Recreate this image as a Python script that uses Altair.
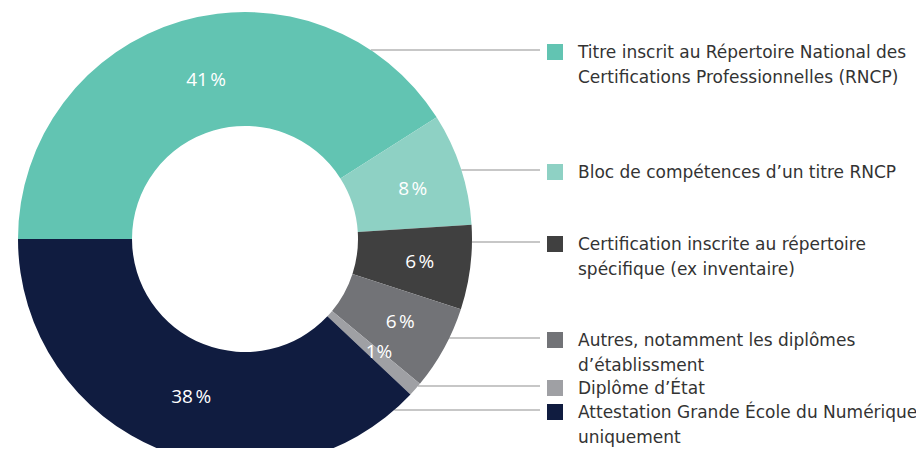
import math
import altair as alt
import pandas as pd

# ---- data ----
categories = [
    "Titre inscrit au Répertoire National des Certifications Professionnelles (RNCP)",
    "Bloc de compétences d’un titre RNCP",
    "Certification inscrite au répertoire spécifique (ex inventaire)",
    "Autres, notamment les diplômes d’établissment",
    "Diplôme d’État",
    "Attestation Grande École du Numérique uniquement",
]
legend_lines = [
    ["Titre inscrit au Répertoire National des", "Certifications Professionnelles (RNCP)"],
    ["Bloc de compétences d’un titre RNCP"],
    ["Certification inscrite au répertoire", "spécifique (ex inventaire)"],
    ["Autres, notamment les diplômes", "d’établissment"],
    ["Diplôme d’État"],
    ["Attestation Grande École du Numérique", "uniquement"],
]
values = [41, 8, 6, 6, 1, 38]
pct_labels = ["41\u202f%", "8\u202f%", "6\u202f%", "6\u202f%", "1%", "38\u202f%"]

# ---- style / layout ----
colors = ["#62c4b2", "#8ed1c4", "#404040", "#727377", "#9fa0a4", "#101c40"]
W, H = 908, 440
CX, CY = 237, 231
R_OUT, R_IN = 227, 113
row_centers = [44, 164, 236, 332, 380, 404]
LINE_H = 24.5
SQ_X = 547
TXT_X = 570
LINE_END = 532
FONT = "Open Sans"
LEGEND_FONT = "DejaVu Sans"

arc_df = pd.DataFrame({
    "category": categories,
    "value": values,
    "order": list(range(len(categories))),
    "label": pct_labels,
})

color_scale = alt.Scale(domain=categories, range=colors)
theta_enc = alt.Theta("value:Q", stack=True,
                      scale=alt.Scale(range=[1.5 * math.pi, 3.5 * math.pi]))

arcs = alt.Chart(arc_df).mark_arc(radius=R_OUT, radius2=R_IN).encode(
    theta=theta_enc,
    color=alt.Color("category:N", scale=color_scale, legend=None),
    order=alt.Order("order:Q"),
    x=alt.value(CX),
    y=alt.value(CY),
)

pct = alt.Chart(arc_df).mark_text(
    radius=168, fontSize=19, font=FONT, color="white",
    align="center", baseline="middle",
).encode(
    theta=theta_enc,
    detail="category:N",
    order=alt.Order("order:Q"),
    text="label:N",
    x=alt.value(CX + 8),
    y=alt.value(CY + 2),
)

# leader lines
line_rows = []
for cat, yc in zip(categories, row_centers):
    y = yc - 2
    dy = y - CY
    x1 = CX + math.sqrt(max(R_OUT ** 2 - dy ** 2, 0))
    line_rows.append({"category": cat, "x1": x1, "y": y})
lines = alt.Chart(pd.DataFrame(line_rows)).mark_rule(
    color="#b4b4b4", strokeWidth=1.5
).encode(
    x=alt.X("x1:Q", scale=None),
    x2=alt.value(LINE_END),
    y=alt.Y("y:Q", scale=None),
)

sq_df = pd.DataFrame({"category": categories, "y": row_centers})
squares = alt.Chart(sq_df).mark_square(size=256, opacity=1).encode(
    x=alt.value(SQ_X),
    y=alt.Y("y:Q", scale=None),
    color=alt.Color("category:N", scale=color_scale, legend=None),
)

txt_rows = []
for lines_txt, yc in zip(legend_lines, row_centers):
    for i, t in enumerate(lines_txt):
        txt_rows.append({"text": t, "y": yc + 1 + i * LINE_H})
legend_text = alt.Chart(pd.DataFrame(txt_rows)).mark_text(
    align="left", baseline="middle", fontSize=17, font=LEGEND_FONT, color="#333333"
).encode(
    x=alt.value(TXT_X),
    y=alt.Y("y:Q", scale=None),
    text="text:N",
)

chart = alt.layer(lines, arcs, pct, squares, legend_text).properties(
    width=W, height=H, autosize="none", padding=0
).configure_view(stroke=None)

chart.save("out.html", embed_options={"renderer": "svg", "actions": False})
